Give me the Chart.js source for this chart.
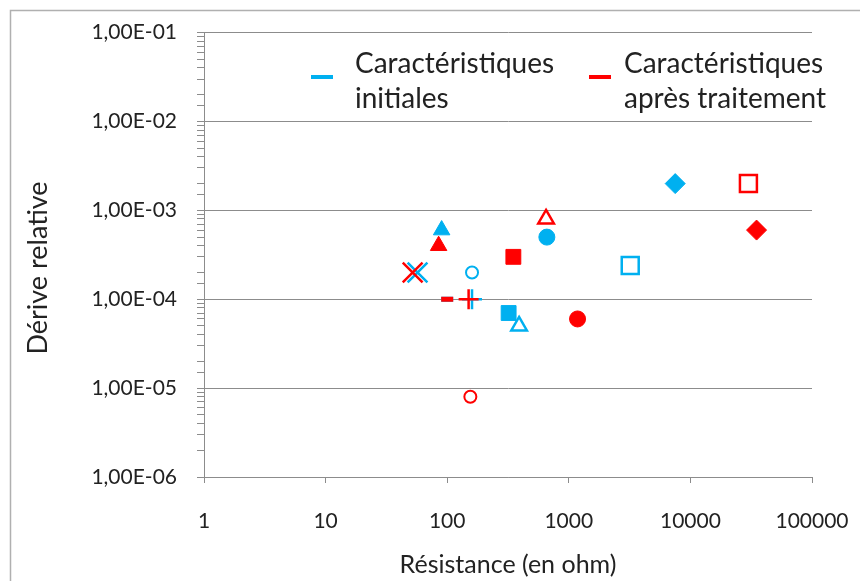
<!DOCTYPE html>
<html>
<head>
<meta charset="utf-8">
<script src="https://cdn.jsdelivr.net/npm/chart.js@4/dist/chart.umd.min.js"></script>
<style>
  html, body { margin: 0; padding: 0; background: #fff; }
  #wrap { width: 860px; height: 581px; }
</style>
</head>
<body>
<div id="wrap"><canvas id="graphe"></canvas></div>
<script>
// Résistance (ohm) et dérive relative, même composant dans le même ordre
const resInitiale = [90, 57, 160, 100, 160, 320, 390, 660, 3200, 7500];
const deriveInitiale = [6e-4, 2e-4, 2e-4, 1e-4, 1e-4, 7e-5, 5e-5, 5e-4, 2.4e-4, 2e-3];
const resTraitee = [85, 52, 155, 100, 150, 350, 650, 1180, 30000, 35000];
const deriveTraitee = [4e-4, 2e-4, 8e-6, 1e-4, 1e-4, 3e-4, 8e-4, 6e-5, 2e-3, 6e-4];

const libelles = [
  ['Caractéristiques', 'initiales'],
  ['Caractéristiques', 'après traitement'],
];
const titreY = 'Dérive relative';
const ticksX = [1, 10, 100, 1000, 10000, 100000];

// un marqueur par composant
const marqueurs = [
  { style: 'triangle', r: 9.5, plein: true, bw: 1 },
  { style: 'crossRot', r: 14, plein: false, bw: 2.5 },
  { style: 'circle', r: 6, plein: false, bw: 2 },
  { style: 'line', r: 6, plein: false, bw: 5 },
  { style: 'cross', r: 10, plein: false, bw: 2.5 },
  { style: 'rect', r: 10.5, plein: true, bw: 1 },
  { style: 'triangle', r: 9, plein: false, bw: 2.5 },
  { style: 'circle', r: 8, plein: true, bw: 1 },
  { style: 'rect', r: 12, plein: false, bw: 2.5 },
  { style: 'rectRot', r: 10, plein: true, bw: 1 },
];

const BLEU = '#00B0F0';
const ROUGE = '#FF0000';
const GRIS = '#8c8c8c';
const TEXTE = '#222';
const POLICE = 'Lato, "Open Sans", sans-serif';

function estPuissance10(v) {
  const e = Math.log10(v);
  return Math.abs(e - Math.round(e)) < 1e-9;
}

function formatExcel(v) {
  const e = Math.round(Math.log10(v));
  const s = e < 0 ? '-' : '+';
  return '1,00E' + s + String(Math.abs(e)).padStart(2, '0');
}

function serie(label, xs, ys, couleur, ordre) {
  return {
    label,
    data: xs.map((x, i) => ({ x, y: ys[i] })),
    order: ordre,
    borderColor: couleur,
    backgroundColor: marqueurs.map((m) => (m.plein ? couleur : 'rgba(0,0,0,0)')),
    pointStyle: marqueurs.map((m) => m.style),
    pointRadius: marqueurs.map((m) => m.r),
    pointHoverRadius: marqueurs.map((m) => m.r),
    pointBorderWidth: marqueurs.map((m) => m.bw),
    pointBorderColor: couleur,
    pointBackgroundColor: marqueurs.map((m) => (m.plein ? couleur : 'rgba(0,0,0,0)')),
    showLine: false,
  };
}

// fond blanc + cadre (seuls le haut et la gauche sont visibles)
const cadre = {
  id: 'cadre',
  beforeDraw(chart) {
    const ctx = chart.ctx;
    ctx.save();
    ctx.fillStyle = '#fff';
    ctx.fillRect(0, 0, chart.width, chart.height);
    ctx.strokeStyle = '#b0b0b0';
    ctx.lineWidth = 1.5;
    ctx.beginPath();
    ctx.moveTo(10.5, chart.height);
    ctx.lineTo(10.5, 10.5);
    ctx.lineTo(chart.width, 10.5);
    ctx.stroke();
    ctx.restore();
  },
};

// légende posée dans la zone du graphique + titre de l'axe vertical
const legende = {
  id: 'legende',
  afterDraw(chart) {
    const ctx = chart.ctx;
    const tirets = [311, 589];
    const textes = [355, 624];
    ctx.save();
    ctx.font = '28px ' + POLICE;
    ctx.fillStyle = TEXTE;
    ctx.textBaseline = 'alphabetic';
    chart.data.datasets.forEach((ds, i) => {
      ctx.strokeStyle = ds.borderColor;
      ctx.lineWidth = 4;
      ctx.beginPath();
      ctx.moveTo(tirets[i], 77);
      ctx.lineTo(tirets[i] + 22, 77);
      ctx.stroke();
      libelles[i].forEach((ligne, k) => {
        ctx.fillText(ligne, textes[i], 73 + k * 35);
      });
    });

    ctx.translate(38, 268);
    ctx.rotate(-Math.PI / 2);
    ctx.font = '27px ' + POLICE;
    ctx.textAlign = 'center';
    ctx.textBaseline = 'middle';
    ctx.fillText(titreY, 0, 0);
    ctx.restore();
  },
};

const ctx = document.getElementById('graphe').getContext('2d');
new Chart(ctx, {
  type: 'scatter',
  data: {
    datasets: [
      serie(libelles[0].join(' '), resInitiale, deriveInitiale, BLEU, 1),
      serie(libelles[1].join(' '), resTraitee, deriveTraitee, ROUGE, 0),
    ],
  },
  options: {
    responsive: true,
    maintainAspectRatio: false,
    animation: false,
    layout: { padding: { left: 0, top: 26, right: 48, bottom: 0 } },
    plugins: {
      legend: { display: false },
      tooltip: { enabled: false },
    },
    scales: {
      x: {
        type: 'logarithmic',
        min: 1,
        max: 100000,
        afterBuildTicks(scale) {
          scale.ticks = ticksX.map((v) => ({ value: v }));
        },
        afterFit(scale) {
          scale.height = 104;
          scale.paddingLeft = 0;
          scale.paddingRight = 0;
        },
        border: { color: GRIS, width: 1 },
        grid: { drawOnChartArea: false, color: GRIS, tickLength: 6 },
        ticks: {
          autoSkip: false,
          maxRotation: 0,
          padding: 26,
          color: TEXTE,
          font: { family: POLICE, size: 21 },
          callback: (v) => String(v),
        },
        title: {
          display: true,
          text: 'Résistance (en ohm)',
          color: TEXTE,
          font: { family: POLICE, size: 25 },
          padding: { top: 0, bottom: 1 },
        },
      },
      y: {
        type: 'logarithmic',
        min: 1e-6,
        max: 1e-1,
        afterFit(scale) {
          scale.width = 204;
        },
        border: { color: GRIS, width: 1 },
        grid: {
          color: (c) => (c.tick && estPuissance10(c.tick.value) ? GRIS : 'rgba(0,0,0,0)'),
          tickColor: GRIS,
          tickLength: 7,
        },
        ticks: {
          autoSkip: false,
          padding: 20,
          color: TEXTE,
          font: { family: POLICE, size: 21 },
          callback: (v) => (estPuissance10(v) ? formatExcel(v) : ''),
        },
      },
    },
  },
  plugins: [cadre, legende],
});
</script>
</body>
</html>
